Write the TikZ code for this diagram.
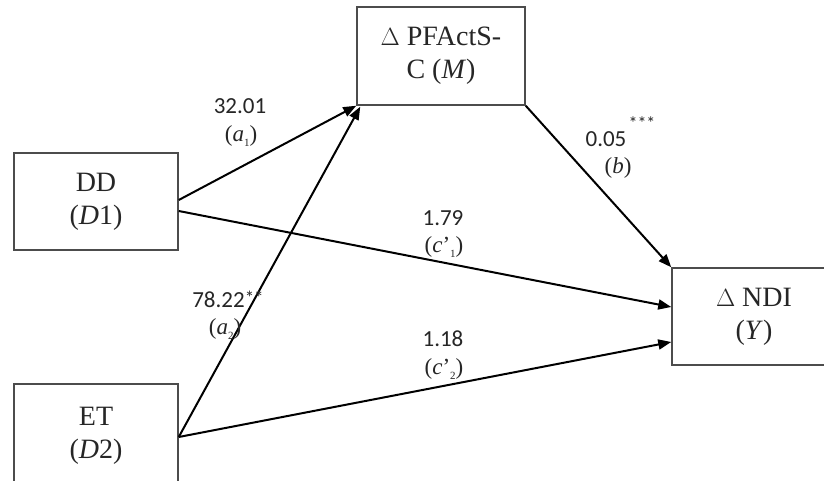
\documentclass[tikz,border=0pt]{standalone}
\usepackage{fontspec}
\setmainfont{Liberation Serif}
\newfontfamily\lblfont{Carlito}
\usetikzlibrary{arrows.meta,calc}
\begin{document}
\begin{tikzpicture}[x=1pt,y=-1pt,
  box/.style={draw=black!70,line width=1.5pt,inner sep=0pt,align=center,
    font=\fontsize{28}{33}\selectfont,text=black!85},
  lbl/.style={inner sep=0pt,font=\lblfont\fontsize{23}{27}\selectfont,text=black!85},
  sym/.style={inner sep=0pt,font=\fontsize{23}{27}\selectfont,text=black!85},
  arr/.style={-{Triangle[length=13pt,width=10pt]},line width=2pt,black}]
\clip (0,0) rectangle (824,481);
\fill[white] (0,0) rectangle (824,481);
% boxes
\node[box,minimum width=168pt,minimum height=98pt] (m) at (441,56) {$\Delta$ PFActS-\\C (\textit{M})};
\node[box,minimum width=164pt,minimum height=97pt] (d1) at (96,201.5) {DD\\(\textit{D}1)};
\node[box,minimum width=164pt,minimum height=104pt] (d2) at (96,436) {ET\\(\textit{D}2)};
\node[box,minimum width=164pt,minimum height=97pt] (y) at (754,316.5) {$\Delta$ NDI\\(\textit{Y})};
% connectors
\draw[arr] ([yshift=1.5pt]d1.east) -- (m.south west);
\draw[arr] ([yshift=-1pt]d2.east) -- ([xshift=4pt,yshift=-1pt]m.south west);
\draw[arr] ([yshift=-9.5pt]d1.east) -- ([yshift=9.5pt]y.west);
\draw[arr] ([yshift=-1pt]d2.east) -- ([yshift=-25.5pt]y.west);
\draw[arr] (m.south east) -- (y.north west);
% labels
\node[lbl] (l1) at (240,106) {32.01};
\node[sym] (l1b) at (241,136) {(\textit{a}\raisebox{-5pt}{\fontsize{11}{11}\selectfont 1})};
\node[lbl] (l2) at (228,299) {78.22\raisebox{3pt}{\fontsize{19}{19}\selectfont **}};
\node[sym] (l2b) at (225,329) {(\textit{a}\raisebox{-5pt}{\fontsize{11}{11}\selectfont 2})};
\node[lbl] (l3) at (606,139) {0.05};
\node[lbl,font=\lblfont\fontsize{18}{18}\selectfont] (l3s) at (642,123) {***};
\node[sym] (l3b) at (618,168) {(\textit{b})};
\node[lbl] (l4) at (443,218) {1.79};
\node[sym] (l4b) at (444,247) {(\textit{c}’\raisebox{-5pt}{\fontsize{11}{11}\selectfont 1})};
\node[lbl] (l5) at (443,339) {1.18};
\node[sym] (l5b) at (444,369) {(\textit{c}’\raisebox{-5pt}{\fontsize{11}{11}\selectfont 2})};
\end{tikzpicture}
\end{document}
